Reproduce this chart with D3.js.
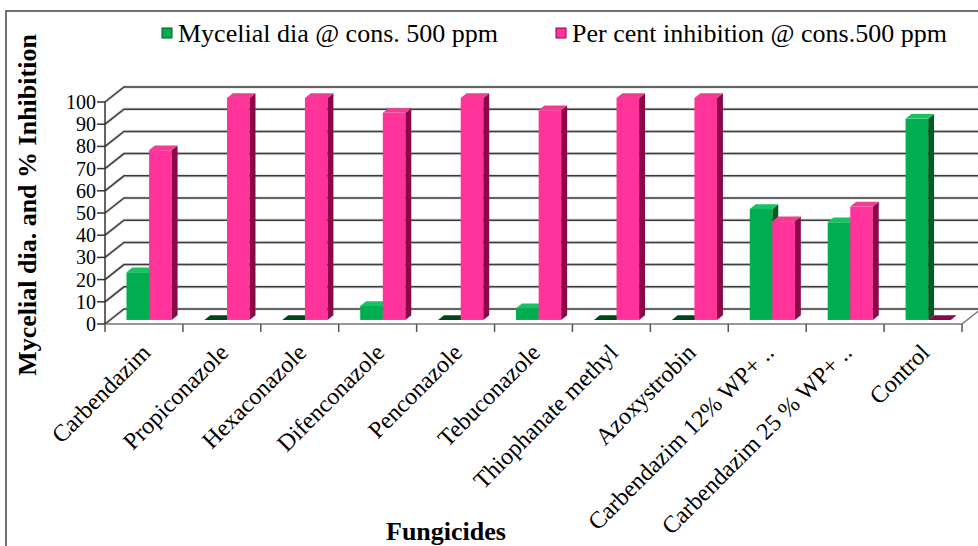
<!DOCTYPE html>
<html>
<head>
<meta charset="utf-8">
<script src="https://cdn.jsdelivr.net/npm/d3@7"></script>
<style>
  body { margin: 0; background: #fff; }
  svg text { font-family: "Liberation Serif", "Times New Roman", serif; fill: #000; }
</style>
</head>
<body>
<div id="chart"></div>
<script>
const categories = ["Carbendazim", "Propiconazole", "Hexaconazole", "Difenconazole", "Penconazole",
  "Tebuconazole", "Thiophanate methyl", "Azoxystrobin", "Carbendazim 12% WP+ ..",
  "Carbendazim 25 % WP+ ..", "Control"];
const mycelial = [21.5, 0, 0, 6.3, 0, 5.3, 0, 0, 50, 44, 90.7];
const inhibition = [76.5, 100, 100, 93.3, 100, 94.5, 100, 100, 44.5, 51.1, 0];
const seriesNames = ["Mycelial dia @ cons. 500 ppm", "Per cent inhibition @ cons.500 ppm"];
const yTicks = [0, 10, 20, 30, 40, 50, 60, 70, 80, 90, 100];

const W = 978, H = 546;
const plot = {left: 105, right: 962, top: 102, bottom: 324};
const depth = {dx: 19, dy: -15};          // floor / wall depth
const barFront = 0.27, barBack = 0.58;    // bar position inside the depth

const colors = [
  {front: "#00AD50", top: "#14C463", side: "#005C22", flat: "#00461a"},
  {front: "#FF3399", top: "#EE3D93", side: "#8A0847", flat: "#8A0847"}
];

const svg = d3.select("#chart").append("svg")
  .attr("width", W).attr("height", H);

// frame
svg.append("path")
  .attr("d", `M6,${H}V11H${W}`)
  .attr("fill", "none").attr("stroke", "#444").attr("stroke-width", 1.5);

const x = d3.scaleBand().domain(categories).range([plot.left, plot.right]).paddingInner(0.42).paddingOuter(0.21);
const xOuter = d3.scaleBand().domain(categories).range([plot.left, plot.right]);
const xs = d3.scaleBand().domain([0, 1]).range([0, x.bandwidth()]);
const y = d3.scaleLinear().domain([0, 100]).range([plot.bottom, plot.top]);

// back wall gridlines + left wall diagonals
const grid = svg.append("g");
yTicks.forEach(t => {
  const d = `M${plot.left},${y(t)}L${plot.left + depth.dx},${y(t) + depth.dy}H${W}`;
  grid.append("path").attr("d", d)
    .attr("fill", "none").attr("stroke", "#bbb").attr("stroke-width", 3.2).attr("opacity", 0.5);
  grid.append("path").attr("d", d)
    .attr("fill", "none").attr("stroke", "#3c3c3c").attr("stroke-width", 1.5);
});

// floor edges
svg.append("path")
  .attr("d", `M${plot.left},${plot.bottom}H${plot.right}L${plot.right + depth.dx},${plot.bottom + depth.dy}`)
  .attr("fill", "none").attr("stroke", "#777").attr("stroke-width", 1.5);

// y axis line and ticks
svg.append("line")
  .attr("x1", plot.left).attr("x2", plot.left)
  .attr("y1", y(100)).attr("y2", y(0))
  .attr("stroke", "#333").attr("stroke-width", 1.5);
svg.append("g").selectAll("line").data(yTicks).join("line")
  .attr("x1", plot.left - 8).attr("x2", plot.left)
  .attr("y1", d => y(d)).attr("y2", d => y(d))
  .attr("stroke", "#333").attr("stroke-width", 1.5);
svg.append("g").selectAll("text").data(yTicks).join("text")
  .attr("x", plot.left - 9).attr("y", d => y(d) + 7)
  .attr("text-anchor", "end")
  .style("font-size", "20px")
  .text(d => d);

// x ticks at category boundaries
const bounds = categories.map(c => xOuter(c)).concat([plot.right]);
svg.append("g").selectAll("line").data(bounds).join("line")
  .attr("x1", d => d).attr("x2", d => d)
  .attr("y1", plot.bottom).attr("y2", plot.bottom + 8)
  .attr("stroke", "#555").attr("stroke-width", 1.5);

// bars
const fx = barFront * depth.dx, fy = barFront * depth.dy;
const bx = barBack * depth.dx, by = barBack * depth.dy;
const bars = [];
categories.forEach((c, i) => {
  [mycelial[i], inhibition[i]].forEach((v, s) => bars.push({c, s, v}));
});
const barG = svg.append("g");
bars.forEach(d => {
  const c = colors[d.s];
  const x0 = x(d.c) + xs(d.s) + fx, x1 = x0 + xs.bandwidth();
  const yb = y(0) + fy, yt = y(d.v) + fy;
  const ox = bx - fx, oy = by - fy;
  const g = barG.append("g");
  if (d.v > 0) {
    g.append("rect")
      .attr("x", x0).attr("y", yt).attr("width", x1 - x0).attr("height", yb - yt)
      .attr("fill", c.front);
    g.append("path")
      .attr("d", `M${x1},${yt}L${x1 + ox},${yt + oy}V${yb + oy}L${x1},${yb}Z`)
      .attr("fill", c.side);
  }
  g.append("path")
    .attr("d", `M${x0},${yt}L${x0 + ox},${yt + oy}H${x1 + ox}L${x1},${yt}Z`)
    .attr("fill", d.v > 0 ? c.top : c.flat);
});

// x labels
svg.append("g").selectAll("text").data(categories).join("text")
  .attr("transform", d => `translate(${xOuter(d) + xOuter.bandwidth() / 2 + 8},${plot.bottom + 30}) rotate(-45)`)
  .attr("text-anchor", "end")
  .style("font-size", "24px")
  .text(d => d);

// axis titles
svg.append("text")
  .attr("transform", `translate(36,205) rotate(-90)`)
  .attr("text-anchor", "middle")
  .style("font-size", "26px").style("font-weight", "bold")
  .text("Mycelial dia. and % Inhibition");

svg.append("text")
  .attr("x", 446).attr("y", 540)
  .attr("text-anchor", "middle")
  .style("font-size", "26px").style("font-weight", "bold")
  .text("Fungicides");

// legend
const legendX = [162, 556];
const legend = svg.append("g");
seriesNames.forEach((n, i) => {
  legend.append("rect")
    .attr("x", legendX[i]).attr("y", 28).attr("width", 10).attr("height", 10)
    .attr("fill", colors[i].front).attr("stroke", colors[i].side).attr("stroke-width", 1);
  legend.append("text")
    .attr("x", legendX[i] + 16).attr("y", 42)
    .style("font-size", "26px")
    .text(n);
});
</script>
</body>
</html>
